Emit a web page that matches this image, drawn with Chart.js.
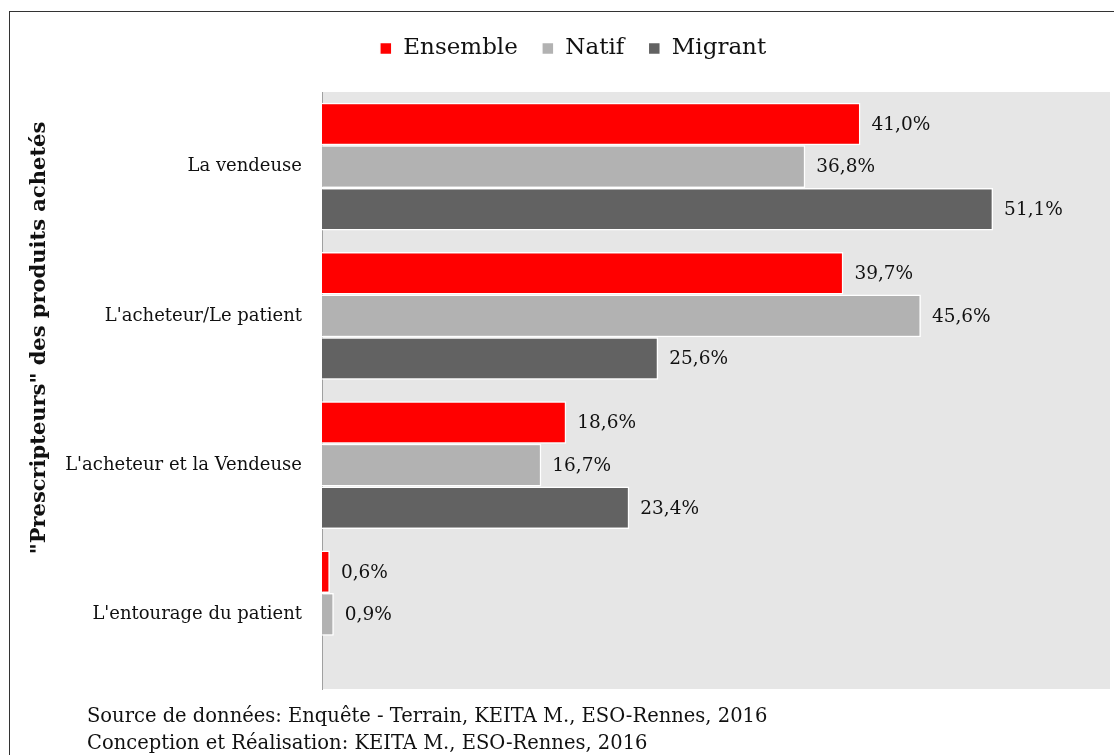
<!DOCTYPE html>
<html lang="fr">
<head>
<meta charset="utf-8">
<title>Prescripteurs des produits achetés</title>
<script src="https://cdn.jsdelivr.net/npm/chart.js@4"></script>
<style>
  html, body { margin: 0; padding: 0; background: #fff; }
  #wrap { position: relative; width: 1114px; height: 755px; overflow: hidden; }
  #frame {
    position: absolute; left: 9px; top: 11px; width: 1200px; height: 900px;
    border: 1.5px solid #333; box-sizing: border-box; pointer-events: none;
  }
  .source {
    position: absolute; left: 87px; font-family: "DejaVu Serif", serif;
    font-size: 19.5px; color: #111; white-space: nowrap; line-height: 1;
  }
</style>
</head>
<body>
<div id="wrap">
  <canvas id="chart" width="1114" height="755"></canvas>
  <div id="frame"></div>
  <div class="source" style="top: 706px;">Source de données: Enquête - Terrain, KEITA M., ESO-Rennes, 2016</div>
  <div class="source" style="top: 733px;">Conception et Réalisation: KEITA M., ESO-Rennes, 2016</div>
</div>
<script>
// categories and values (%)
const categories = [
  "La vendeuse",
  "L'acheteur/Le patient",
  "L'acheteur et la Vendeuse",
  "L'entourage du patient"
];
const ensemble = [41.0, 39.7, 18.6, 0.6];
const natif = [36.8, 45.6, 16.7, 0.9];
const migrant = [51.1, 25.6, 23.4, null];

const SERIF = '"DejaVu Serif", serif';

// grey background behind the bars
const plotBg = {
  id: "plotBg",
  beforeDraw(chart) {
    const { ctx, chartArea: a } = chart;
    ctx.save();
    ctx.fillStyle = "#e6e6e6";
    ctx.fillRect(a.left, a.top, a.right - a.left, a.bottom - a.top);
    ctx.restore();
  }
};

// value labels at the end of each bar
const valueLabels = {
  id: "valueLabels",
  afterDatasetsDraw(chart) {
    const ctx = chart.ctx;
    ctx.save();
    ctx.font = "18.5px " + SERIF;
    ctx.fillStyle = "#111";
    ctx.textAlign = "left";
    ctx.textBaseline = "middle";
    chart.data.datasets.forEach((ds, i) => {
      chart.getDatasetMeta(i).data.forEach((bar, j) => {
        const v = ds.data[j];
        if (v == null) return;
        ctx.fillText(v.toFixed(1).replace(".", ",") + "%", bar.x + 11, bar.y + 1);
      });
    });
    ctx.restore();
  }
};

// vertical axis title, drawn by hand so it can sit off-centre
const sideTitle = {
  id: "sideTitle",
  afterDraw(chart) {
    const ctx = chart.ctx;
    ctx.save();
    ctx.translate(40, 338);
    ctx.rotate(-Math.PI / 2);
    ctx.font = "bold 21px " + SERIF;
    ctx.fillStyle = "#111";
    ctx.textAlign = "center";
    ctx.textBaseline = "middle";
    ctx.fillText('"Prescripteurs" des produits achetés', 0, 0);
    ctx.restore();
  }
};

// extra space under the legend
const legendGap = {
  id: "legendGap",
  beforeInit(chart) {
    const fit = chart.legend.fit;
    chart.legend.fit = function () {
      fit.bind(chart.legend)();
      this.height += 22;
    };
  }
};

new Chart(document.getElementById("chart"), {
  type: "bar",
  data: {
    labels: categories,
    datasets: [
      { label: "Ensemble", data: ensemble, backgroundColor: "#ff0000" },
      { label: "Natif", data: natif, backgroundColor: "#b2b2b2" },
      { label: "Migrant", data: migrant, backgroundColor: "#626262" }
    ]
  },
  options: {
    indexAxis: "y",
    responsive: false,
    animation: false,
    layout: { padding: { left: 36, right: 4, top: 13, bottom: 66 } },
    datasets: {
      bar: {
        categoryPercentage: 0.856,
        barPercentage: 1,
        borderColor: "#ffffff",
        borderWidth: 1.5
      }
    },
    plugins: {
      legend: {
        position: "top",
        labels: {
          boxWidth: 12,
          boxHeight: 12,
          padding: 24,
          color: "#111",
          font: { family: SERIF, size: 23 }
        }
      },
      tooltip: { enabled: false }
    },
    scales: {
      x: { display: false, min: 0, max: 60 },
      y: {
        grid: { display: false, drawTicks: false },
        border: { display: true, color: "#a0a0a0", width: 1 },
        ticks: {
          padding: 20,
          color: "#111",
          font: { family: SERIF, size: 18 }
        },
        afterFit(scale) { scale.width = 286; }
      }
    }
  },
  plugins: [plotBg, valueLabels, sideTitle, legendGap]
});
</script>
</body>
</html>
